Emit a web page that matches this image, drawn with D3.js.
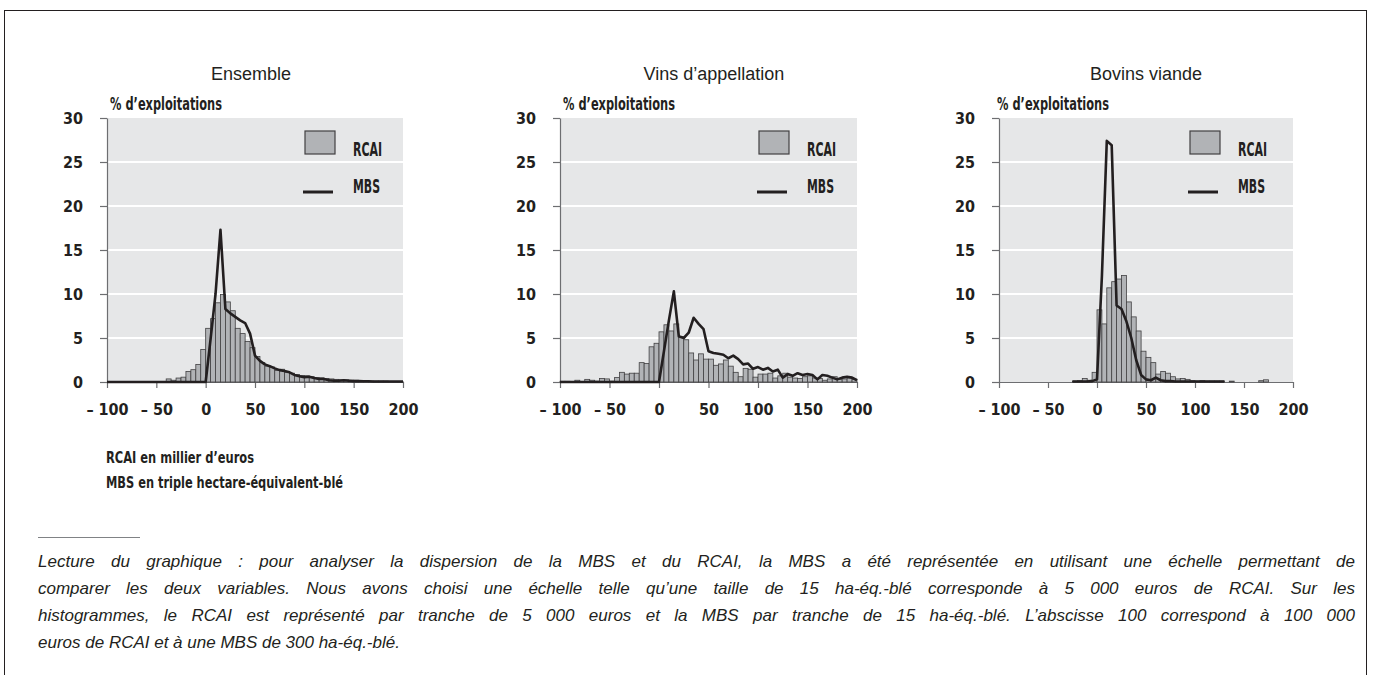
<!DOCTYPE html>
<html>
<head>
<meta charset="utf-8">
<title>Dispersion RCAI / MBS</title>
<style>
  body { margin: 0; background: #fff; }
  .cond { font-family: "DejaVu Sans Condensed", "Liberation Sans Narrow", sans-serif; font-stretch: condensed; font-weight: bold; fill: #231f20; }
  .title { font-family: "Liberation Sans", Arial, sans-serif; font-size: 18px; fill: #231f20; }
  .note { font-family: "Liberation Sans", Arial, sans-serif; font-style: italic; font-size: 17px; fill: #231f20; }
  .axis path, .axis line { stroke: #6d6e71; stroke-width: 1.2; }
  .axis text { font-family: "DejaVu Sans Condensed", "Liberation Sans Narrow", sans-serif; font-stretch: condensed; font-weight: bold; font-size: 16px; fill: #231f20; }
</style>
</head>
<body>
<svg id="chart" width="1373" height="675"></svg>
<script src="https://cdn.jsdelivr.net/npm/d3@7/dist/d3.min.js"></script>
<script>
  // bins of 5 (RCAI in thousand euros), left edges
  var binStarts = [-100, -95, -90, -85, -80, -75, -70, -65, -60, -55,
    -50, -45, -40, -35, -30, -25, -20, -15, -10, -5,
    0, 5, 10, 15, 20, 25, 30, 35, 40, 45,
    50, 55, 60, 65, 70, 75, 80, 85, 90, 95,
    100, 105, 110, 115, 120, 125, 130, 135, 140, 145,
    150, 155, 160, 165, 170, 175, 180, 185, 190, 195];

  // MBS points
  var mbsX = [-100, -95, -90, -85, -80, -75, -70, -65, -60, -55,
    -50, -45, -40, -35, -30, -25, -20, -15, -10, -5,
    0, 5, 10, 15, 20, 25, 30, 35, 40, 45,
    50, 55, 60, 65, 70, 75, 80, 85, 90, 95,
    100, 105, 110, 115, 120, 125, 130, 135, 140, 145,
    150, 155, 160, 165, 170, 175, 180, 185, 190, 195, 200];

  var xTicks = [-100, -50, 0, 50, 100, 150, 200];
  var xTickLabels = ["\u2013 100", "\u2013 50", "0", "50", "100", "150", "200"];
  var yTicks = [0, 5, 10, 15, 20, 25, 30];

  var panelTitles = ["Ensemble", "Vins d\u2019appellation", "Bovins viande"];

  var rcaiEnsemble = [0, 0, 0, 0, 0, 0, 0, 0, 0, 0,
    0, 0, 0.35, 0.2, 0.45, 0.55, 1.2, 1.4, 2.0, 3.7,
    6.1, 7.2, 9.0, 9.95, 9.1, 8.1, 6.1, 5.5, 4.6, 3.9,
    2.9, 2.2, 1.8, 1.7, 1.3, 1.45, 1.1, 1.0, 0.85, 0.75,
    0.7, 0.6, 0.5, 0.45, 0.4, 0.35, 0.3, 0.25, 0.25, 0.2,
    0.2, 0.15, 0.15, 0.1, 0.1, 0.1, 0.1, 0.05, 0.05, 0.05];

  var rcaiVins = [0.08, 0.08, 0.05, 0.2, 0.05, 0.3, 0.2, 0.1, 0.4, 0.35,
    0.1, 0.5, 1.1, 0.9, 1.0, 1.0, 2.2, 2.1, 4.0, 4.4,
    5.7, 6.5, 5.8, 6.6, 5.15, 4.8, 3.3, 2.5, 3.2, 2.6,
    2.6, 1.9, 2.05, 2.5, 1.8, 1.1, 0.6, 1.55, 1.45, 0.55,
    0.9, 0.9, 1.0, 0.45, 0.7, 1.0, 0.55, 0.45, 0.4, 0.6,
    0.7, 0.45, 0.4, 0.2, 0.35, 0.6, 0.3, 0.35, 0.45, 0.3];

  var rcaiBovins = [0, 0, 0, 0, 0, 0, 0, 0, 0, 0,
    0, 0, 0, 0, 0, 0.1, 0.15, 0.4, 0.2, 1.1,
    8.2, 6.6, 10.7, 11.4, 11.7, 12.1, 9.1, 7.4, 5.8, 3.5,
    2.8, 2.2, 0.9, 1.2, 1.0, 0.6, 0.35, 0.4, 0.3, 0.15,
    0.1, 0.15, 0.1, 0.1, 0.1, 0.1, 0, 0.1, 0, 0,
    0, 0, 0, 0.15, 0.25, 0, 0, 0, 0, 0];

  var mbsEnsemble = [0, 0, 0, 0, 0, 0, 0, 0, 0, 0,
    0, 0, 0, 0, 0, 0, 0, 0, 0, 0,
    0, 4.9, 10.0, 17.3, 8.3, 7.8, 7.4, 7.0, 6.7, 5.5,
    3.0, 2.4, 2.0, 1.8, 1.55, 1.35, 1.25, 1.1, 0.8, 0.65,
    0.55, 0.6, 0.45, 0.35, 0.35, 0.2, 0.15, 0.15, 0.2, 0.15,
    0.1, 0.1, 0.08, 0.08, 0.06, 0.06, 0.05, 0.05, 0.05, 0.05, 0.05];

  var mbsVins = [0, 0, 0, 0, 0, 0, 0, 0, 0, 0,
    0, 0, 0, 0, 0, 0, 0, 0, 0, 0,
    0, 3.5, 7.0, 10.3, 5.2, 5.0, 5.6, 7.3, 6.6, 6.0,
    3.5, 3.3, 3.2, 3.1, 2.7, 3.0, 2.6, 2.0, 2.1, 1.5,
    1.7, 1.4, 1.6, 1.2, 1.4, 0.5, 0.9, 0.7, 1.0, 0.8,
    0.9, 0.8, 0.3, 0.8, 0.7, 0.5, 0.3, 0.5, 0.6, 0.5, 0.2];

  var mbsBovins = [null, null, null, null, null, null, null, null, null, null,
    null, null, null, null, null, 0.05, 0.05, 0.05, 0.05, 0.1,
    0.3, 12.0, 27.4, 26.9, 8.7, 8.3, 6.9, 5.0, 2.5, 0.8,
    0.3, 0.2, 0.5, 0.2, 0.1, 0.1, 0.05, 0.05, 0.05, 0.05,
    0.05, 0.05, 0.05, 0.05, 0.05, 0.05, 0.05, null, null, null,
    null, null, null, null, null, null, null, null, null, null, null];

  var legendLabels = ["RCAI", "MBS"];
  var unitNotes = ["RCAI en millier d\u2019euros", "MBS en triple hectare-\u00e9quivalent-bl\u00e9"];
  var noteLines = [
    "Lecture du graphique : pour analyser la dispersion de la MBS et du RCAI, la MBS a \u00e9t\u00e9 repr\u00e9sent\u00e9e en utilisant une \u00e9chelle permettant de",
    "comparer les deux variables. Nous avons choisi une \u00e9chelle telle qu\u2019une taille de 15 ha-\u00e9q.-bl\u00e9 corresponde \u00e0 5 000 euros de RCAI. Sur les",
    "histogrammes, le RCAI est repr\u00e9sent\u00e9 par tranche de 5 000 euros et la MBS par tranche de 15 ha-\u00e9q.-bl\u00e9. L\u2019abscisse 100 correspond \u00e0 100 000",
    "euros de RCAI et \u00e0 une MBS de 300 ha-\u00e9q.-bl\u00e9."
  ];

  var plotTop = 118, plotBottom = 382, binSize = 5;

  var panels = [
    { title: panelTitles[0], rcai: rcaiEnsemble, mbs: mbsEnsemble, x0: 107, x1: 403, titleX: 251, labelX: 110, legendX: 305 },
    { title: panelTitles[1], rcai: rcaiVins, mbs: mbsVins, x0: 560, x1: 857, titleX: 714, labelX: 563, legendX: 759 },
    { title: panelTitles[2], rcai: rcaiBovins, mbs: mbsBovins, x0: 999, x1: 1293, titleX: 1146, labelX: 997, legendX: 1190 }
  ];

  var svg = d3.select("#chart");

  // outer frame
  svg.append("rect")
    .attr("x", 4.5).attr("y", 10.5)
    .attr("width", 1362).attr("height", 700)
    .attr("fill", "none")
    .attr("stroke", "#231f20")
    .attr("stroke-width", 1);

  var y = d3.scaleLinear().domain([0, 30]).range([plotBottom, plotTop]);

  panels.forEach(function(p) {
    var x = d3.scaleLinear().domain([-100, 200]).range([p.x0, p.x1]);
    var g = svg.append("g");

    g.append("rect")
      .attr("x", p.x0).attr("y", plotTop)
      .attr("width", p.x1 - p.x0).attr("height", plotBottom - plotTop)
      .attr("fill", "#e6e7e8");

    g.selectAll("line.grid")
      .data(yTicks.filter(function(t) { return t > 0 && t < 30; }))
      .enter().append("line")
      .attr("class", "grid")
      .attr("x1", p.x0).attr("x2", p.x1)
      .attr("y1", function(d) { return y(d); })
      .attr("y2", function(d) { return y(d); })
      .attr("stroke", "#fff")
      .attr("stroke-width", 2);

    // y axis
    g.append("g")
      .attr("class", "axis")
      .attr("transform", "translate(" + p.x0 + ",0)")
      .call(d3.axisLeft(y).tickValues(yTicks).tickSize(7).tickPadding(17).tickSizeOuter(0));

    // x axis
    g.append("g")
      .attr("class", "axis")
      .attr("transform", "translate(0," + plotBottom + ")")
      .call(d3.axisBottom(x).tickValues(xTicks).tickSize(6).tickPadding(16).tickSizeOuter(0)
        .tickFormat(function(d, i) { return xTickLabels[i]; }));

    // RCAI bars
    var bars = binStarts.map(function(b, i) { return { x: b, v: p.rcai[i] }; })
      .filter(function(d) { return d.v > 0; });
    g.selectAll("rect.bar")
      .data(bars)
      .enter().append("rect")
      .attr("class", "bar")
      .attr("x", function(d) { return x(d.x); })
      .attr("width", function(d) { return x(d.x + binSize) - x(d.x); })
      .attr("y", function(d) { return y(d.v); })
      .attr("height", function(d) { return plotBottom - y(d.v); })
      .attr("fill", "#b1b3b6")
      .attr("stroke", "#414042")
      .attr("stroke-width", 0.8);

    // MBS line
    var line = d3.line()
      .defined(function(d) { return d[1] != null; })
      .x(function(d) { return x(d[0]); })
      .y(function(d) { return y(d[1]); });
    g.append("path")
      .datum(mbsX.map(function(v, i) { return [v, p.mbs[i]]; }))
      .attr("d", line)
      .attr("fill", "none")
      .attr("stroke", "#231f20")
      .attr("stroke-width", 2.6)
      .attr("stroke-linejoin", "round");

    // titles
    g.append("text")
      .attr("class", "title")
      .attr("x", p.titleX).attr("y", 80)
      .attr("text-anchor", "middle")
      .text(p.title);

    g.append("text")
      .attr("class", "cond")
      .attr("x", p.labelX).attr("y", 110)
      .attr("textLength", 112)
      .attr("lengthAdjust", "spacingAndGlyphs")
      .style("font-size", "17px")
      .text("% d\u2019exploitations");

    // legend
    g.append("rect")
      .attr("x", p.legendX).attr("y", 131)
      .attr("width", 30).attr("height", 23)
      .attr("fill", "#b1b3b6")
      .attr("stroke", "#414042")
      .attr("stroke-width", 1.2);
    g.append("line")
      .attr("x1", p.legendX - 2).attr("x2", p.legendX + 28)
      .attr("y1", 192).attr("y2", 192)
      .attr("stroke", "#231f20")
      .attr("stroke-width", 3);
    g.selectAll("text.leg")
      .data(legendLabels)
      .enter().append("text")
      .attr("class", "cond leg")
      .attr("x", p.legendX + 48)
      .attr("y", function(d, i) { return i ? 192.5 : 155.5; })
      .attr("textLength", function(d, i) { return i ? 27 : 29; })
      .attr("lengthAdjust", "spacingAndGlyphs")
      .style("font-size", "19px")
      .text(function(d) { return d; });
  });

  // unit notes under first panel
  svg.selectAll("text.unit")
    .data(unitNotes)
    .enter().append("text")
    .attr("class", "cond unit")
    .attr("x", 106)
    .attr("y", function(d, i) { return 463 + i * 25; })
    .attr("textLength", function(d, i) { return i ? 237 : 148; })
    .attr("lengthAdjust", "spacingAndGlyphs")
    .style("font-size", "16px")
    .text(function(d) { return d; });

  // separator
  var noteLeft = 38, noteRight = 1355;
  svg.append("line")
    .attr("x1", noteLeft).attr("x2", 140)
    .attr("y1", 537.5).attr("y2", 537.5)
    .attr("stroke", "#808285")
    .attr("stroke-width", 1);

  // reading note, justified by widening the word spaces
  svg.selectAll("text.note")
    .data(noteLines)
    .enter().append("text")
    .attr("class", "note")
    .attr("x", noteLeft)
    .attr("y", function(d, i) { return 567 + i * 27; })
    .text(function(d) { return d; })
    .each(function(d, i) {
      if (i === noteLines.length - 1) return;
      var natural = this.getComputedTextLength();
      var gaps = d.split(" ").length - 1;
      d3.select(this).style("word-spacing", ((noteRight - noteLeft - natural) / gaps) + "px");
    });
</script>
</body>
</html>
